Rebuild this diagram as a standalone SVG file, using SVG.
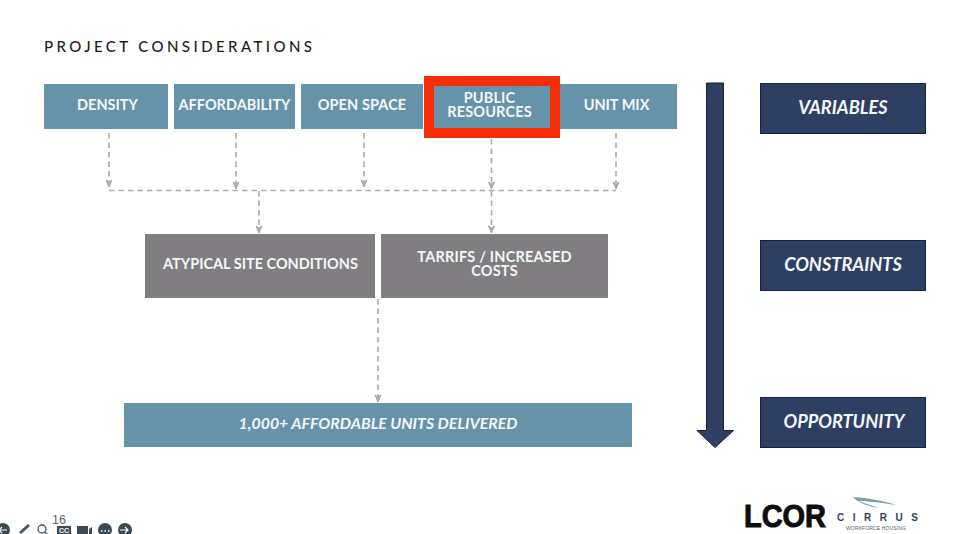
<svg xmlns="http://www.w3.org/2000/svg" width="961" height="534" viewBox="0 0 961 534">
<style>
.t{font-family:Lato,"Noto Sans",sans-serif;font-weight:700;fill:#f4f7f8;text-anchor:middle}
.b{fill:#6593a9}.g{fill:#807e81}.n{fill:#2f3f63;stroke:#15203a;stroke-width:1}
.top{font-size:14.500px}.it{font-style:italic;font-size:18.200px}
.c{fill:none;stroke:#ababab;stroke-width:1.600;stroke-dasharray:5.500 4}
.h{fill:#b0b0b0;stroke:#a5a5a5;stroke-width:1}
.ic{fill:#3d4a55}
</style>
<rect width="961" height="534" fill="#fff"/>
<text x="44" y="52" font-family="Lato,'Noto Sans',sans-serif" font-size="15" font-weight="500" letter-spacing="3.420" fill="#1b1b1b">PROJECT CONSIDERATIONS</text>
<g id="connectors">
<path class="c" d="M109 133V181M236 133V183M364 133V181M491.500 139V183M616 133V183M109 190.500H616M259 191V227M491.500 191V227M378 299V397"/>
<path class="h" d="M106 180l3 2 3-2-3 7zM233 182l3 2 3-2-3 7zM361 180l3 2 3-2-3 7zM488.500 182l3 2 3-2-3 7zM613 182l3 2 3-2-3 7zM256 226l3 2 3-2-3 7zM488.500 226l3 2 3-2-3 7zM375 395l3 2 3-2-3 7z"/>
</g>
<g id="density"><rect class="b" x="44" y="84" width="124" height="45"/><text class="t top" x="107.500" y="109.500">DENSITY</text></g>
<g id="affordability"><rect class="b" x="174" y="84" width="121" height="45"/><text class="t top" x="234.500" y="109.500">AFFORDABILITY</text></g>
<g id="open-space"><rect class="b" x="301" y="84" width="122" height="45"/><text class="t top" x="362" y="109.500" letter-spacing="0.100">OPEN SPACE</text></g>
<g id="unit-mix"><rect class="b" x="555" y="84" width="122" height="45"/><text class="t top" x="616.500" y="109.500">UNIT MIX</text></g>
<g id="public-resources"><rect class="b" x="429" y="81" width="126" height="52" stroke="#f82c05" stroke-width="10"/><text class="t top" letter-spacing="0.150"><tspan x="489.500" y="103">PUBLIC</tspan><tspan x="489.500" y="116.500">RESOURCES</tspan></text></g>
<g id="atypical"><rect class="g" x="145" y="234" width="230" height="64"/><text class="t top" x="260.500" y="269">ATYPICAL SITE CONDITIONS</text></g>
<g id="tarrifs"><rect class="g" x="381" y="234" width="227" height="64"/><text class="t top" letter-spacing="0.200"><tspan x="494.500" y="262">TARRIFS / INCREASED</tspan><tspan x="494.500" y="275.500">COSTS</tspan></text></g>
<g id="units"><rect class="b" x="124" y="403" width="508" height="44"/><text class="t" style="font-style:italic;font-size:15.850px" x="378" y="429">1,000+ AFFORDABLE UNITS DELIVERED</text></g>
<g id="flow-arrow"><path class="n" d="M706.500 83H723.500V430.500H733.500L715 447.500L697 430.500H706.500Z"/></g>
<g id="variables"><rect class="n" x="760.500" y="83.500" width="165" height="50"/><text class="t it" x="843" y="114">VARIABLES</text></g>
<g id="constraints"><rect class="n" x="760.500" y="240.500" width="165" height="50"/><text class="t it" x="843" y="271">CONSTRAINTS</text></g>
<g id="opportunity"><rect class="n" x="760.500" y="397.500" width="165" height="50"/><text class="t it" x="844" y="428">OPPORTUNITY</text></g>
<text x="52" y="524" font-family="'Liberation Sans',sans-serif" font-size="12.500" fill="#666">16</text>
<g id="toolbar">
<circle class="ic" cx="3" cy="530" r="7"/>
<path d="M-1 530h8M2 527l-3 3 3 3" stroke="#fff" fill="none" stroke-width="1.200"/>
<path d="M19 532l9-8 2 2-9 8z" fill="#4a5560"/>
<circle cx="42" cy="529" r="4" fill="none" stroke="#4a5560" stroke-width="1.300"/><path d="M45 532l3 3" stroke="#4a5560" stroke-width="1.300"/>
<rect class="ic" x="57" y="526" width="14" height="8"/>
<text x="64" y="533" font-family="'Liberation Sans',sans-serif" font-size="7" font-weight="700" fill="#fff" text-anchor="middle">CC</text>
<rect class="ic" x="77" y="526" width="11" height="8"/><path class="ic" d="M89 529l3-2v7h-3z"/>
<circle class="ic" cx="105" cy="530" r="7"/>
<path d="M101 531h1.500M104.500 531h1.500M108 531h1.500" stroke="#fff" stroke-width="1.500"/>
<circle class="ic" cx="125" cy="530" r="7"/>
<path d="M120 530h8M125 527l3 3-3 3" stroke="#fff" fill="none" stroke-width="1.200"/>
</g>
<g id="logos">
<text x="744" y="527" font-family="'Liberation Sans',sans-serif" font-size="32" font-weight="700" fill="#0d0d0d" stroke="#0d0d0d" stroke-width="1" textLength="82" lengthAdjust="spacingAndGlyphs">LCOR</text>
<path d="M853 497C868 498 885 501 896 505C882 503 868 501 858 501C864 503 872 505 878 508C868 506 858 503 853 497Z" fill="#7f9bb0"/>
<text x="837" y="521" font-family="'Liberation Sans',sans-serif" font-size="10" font-weight="700" fill="#2f3f63" textLength="81">CIRRUS</text>
<text x="846" y="530" font-family="'Liberation Sans',sans-serif" font-size="5" fill="#55606e" textLength="60">WORKFORCE HOUSING</text>
</g>
</svg>
